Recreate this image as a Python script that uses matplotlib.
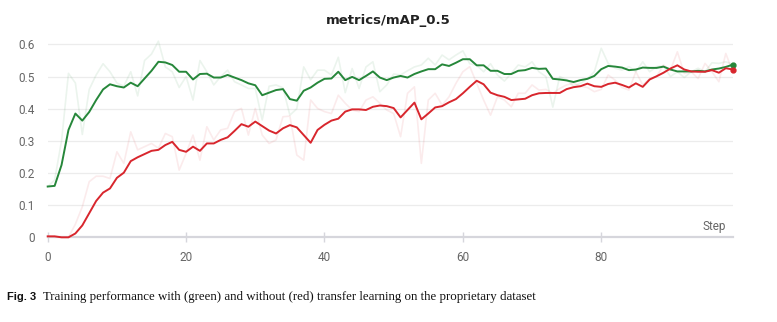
import matplotlib.pyplot as plt
import numpy as np

steps = list(range(100))

# smoothed mAP_0.5, with transfer learning
green_smooth = [0.158, 0.160, 0.225, 0.334, 0.385, 0.363, 0.390, 0.427, 0.460, 0.476,
                0.470, 0.466, 0.481, 0.470, 0.494, 0.518, 0.546, 0.544, 0.536, 0.515,
                0.515, 0.491, 0.508, 0.509, 0.497, 0.497, 0.505, 0.497, 0.489, 0.479,
                0.473, 0.442, 0.450, 0.458, 0.461, 0.430, 0.425, 0.456, 0.466, 0.481,
                0.493, 0.494, 0.515, 0.489, 0.499, 0.489, 0.502, 0.516, 0.497, 0.489,
                0.497, 0.502, 0.497, 0.508, 0.516, 0.523, 0.523, 0.538, 0.533, 0.543,
                0.554, 0.554, 0.535, 0.535, 0.518, 0.518, 0.508, 0.508, 0.518, 0.520,
                0.527, 0.524, 0.525, 0.493, 0.491, 0.488, 0.483, 0.489, 0.493, 0.502,
                0.523, 0.533, 0.531, 0.528, 0.520, 0.522, 0.528, 0.527, 0.527, 0.531,
                0.522, 0.516, 0.516, 0.516, 0.518, 0.516, 0.522, 0.525, 0.530, 0.537]

# smoothed mAP_0.5, without transfer learning
red_smooth = [0.003, 0.003, 0.000, 0.000, 0.012, 0.037, 0.075, 0.113, 0.139, 0.152,
              0.185, 0.201, 0.237, 0.249, 0.259, 0.269, 0.272, 0.287, 0.297, 0.272,
              0.266, 0.282, 0.269, 0.292, 0.292, 0.303, 0.311, 0.331, 0.352, 0.344,
              0.360, 0.346, 0.332, 0.323, 0.339, 0.349, 0.342, 0.318, 0.294, 0.334,
              0.350, 0.363, 0.369, 0.391, 0.398, 0.398, 0.396, 0.406, 0.410, 0.408,
              0.402, 0.373, 0.396, 0.419, 0.367, 0.385, 0.404, 0.408, 0.420, 0.430,
              0.448, 0.468, 0.487, 0.476, 0.450, 0.442, 0.437, 0.427, 0.429, 0.431,
              0.442, 0.448, 0.449, 0.449, 0.449, 0.461, 0.467, 0.470, 0.478, 0.470,
              0.468, 0.477, 0.481, 0.474, 0.466, 0.479, 0.468, 0.491, 0.501, 0.512,
              0.525, 0.535, 0.522, 0.516, 0.515, 0.515, 0.520, 0.512, 0.526, 0.522]

# raw (unsmoothed) values
green_raw = [0.158, 0.178, 0.300, 0.510, 0.480, 0.320, 0.460, 0.505, 0.540, 0.515,
             0.480, 0.470, 0.515, 0.440, 0.550, 0.570, 0.610, 0.530, 0.515, 0.466,
             0.500, 0.427, 0.550, 0.515, 0.474, 0.500, 0.520, 0.484, 0.474, 0.463,
             0.463, 0.365, 0.470, 0.474, 0.465, 0.380, 0.400, 0.530, 0.490, 0.520,
             0.520, 0.505, 0.560, 0.450, 0.525, 0.463, 0.530, 0.546, 0.453, 0.474,
             0.508, 0.505, 0.518, 0.530, 0.536, 0.557, 0.536, 0.567, 0.552, 0.567,
             0.580, 0.540, 0.535, 0.515, 0.540, 0.505, 0.486, 0.510, 0.536, 0.530,
             0.546, 0.515, 0.500, 0.405, 0.500, 0.490, 0.470, 0.479, 0.493, 0.515,
             0.588, 0.541, 0.526, 0.520, 0.531, 0.515, 0.546, 0.515, 0.531, 0.533,
             0.500, 0.515, 0.497, 0.515, 0.526, 0.515, 0.543, 0.541, 0.546, 0.538]

red_raw = [0.003, 0.000, 0.000, 0.000, 0.041, 0.095, 0.173, 0.190, 0.190, 0.183,
           0.266, 0.230, 0.328, 0.272, 0.282, 0.292, 0.277, 0.323, 0.313, 0.209,
           0.261, 0.318, 0.240, 0.344, 0.303, 0.334, 0.339, 0.391, 0.401, 0.318,
           0.401, 0.318, 0.292, 0.303, 0.375, 0.377, 0.256, 0.240, 0.427, 0.401,
           0.391, 0.385, 0.442, 0.417, 0.396, 0.391, 0.427, 0.437, 0.417, 0.396,
           0.385, 0.313, 0.448, 0.468, 0.230, 0.427, 0.448, 0.411, 0.437, 0.479,
           0.515, 0.531, 0.479, 0.427, 0.380, 0.437, 0.427, 0.406, 0.448, 0.448,
           0.474, 0.458, 0.460, 0.448, 0.463, 0.474, 0.479, 0.470, 0.466, 0.453,
           0.460, 0.505, 0.489, 0.466, 0.458, 0.515, 0.474, 0.494, 0.500, 0.536,
           0.520, 0.577, 0.510, 0.515, 0.494, 0.541, 0.515, 0.484, 0.572, 0.515]

green = '#26873a'
red = '#d8262d'

fig = plt.figure(figsize=(7.77, 3.22), dpi=100)
ax = fig.add_axes([0.0614, 0.263, 0.8816, 0.619])

ax.plot(steps, green_raw, color=green, alpha=0.09, lw=1.2, clip_on=False)
ax.plot(steps, red_raw, color=red, alpha=0.09, lw=1.2, clip_on=False)
ax.plot(steps, green_smooth, color=green, lw=1.4, clip_on=False, zorder=3)
ax.plot(steps, red_smooth, color=red, lw=1.4, clip_on=False, zorder=3)
ax.plot(steps[-1], green_smooth[-1], 'o', color=green, ms=3.5, clip_on=False, zorder=4)
ax.plot(steps[-1], red_smooth[-1], 'o', color=red, ms=3.5, clip_on=False, zorder=4)

ax.set_xlim(0, 99)
ax.set_ylim(0, 0.62)
ax.set_yticks([0, 0.1, 0.2, 0.3, 0.4, 0.5, 0.6])
ax.set_yticklabels(['0', '0.1', '0.2', '0.3', '0.4', '0.5', '0.6'])
ax.set_xticks([0, 20, 40, 60, 80])
ax.grid(axis='y', color='#ececec', lw=0.9)
ax.set_axisbelow(True)
for s in ['top', 'right', 'left']:
    ax.spines[s].set_visible(False)
ax.spines['bottom'].set_color('#d6d6dc')
ax.spines['bottom'].set_linewidth(1.6)
ax.tick_params(axis='y', length=0, pad=9, labelsize=8.5, labelcolor='#666666')
ax.tick_params(axis='x', direction='inout', length=7, color='#d6d6dc', width=1,
               pad=6, labelsize=8.5, labelcolor='#666666')
for lab in ax.get_xticklabels() + ax.get_yticklabels():
    lab.set_fontfamily('Roboto')

ax.text(0.99, 0.02, 'Step', transform=ax.transAxes, ha='right', va='bottom',
        fontsize=8.5, color='#666666', family='Roboto')

fig.text(0.5, 0.937, 'metrics/mAP_0.5', ha='center', va='center',
         fontsize=9.5, fontweight='bold', color='#222222')

# figure caption
fig.text(0.0094, 0.079, 'Fig. 3', ha='left', va='center', fontsize=8,
         fontweight='bold', family='Liberation Sans', color='#111111')
fig.text(0.0557, 0.079,
         'Training performance with (green) and without (red) transfer learning on the proprietary dataset',
         ha='left', va='center', fontsize=9.3, family='Liberation Serif', color='#111111')

fig.savefig('out.png', dpi=100)
